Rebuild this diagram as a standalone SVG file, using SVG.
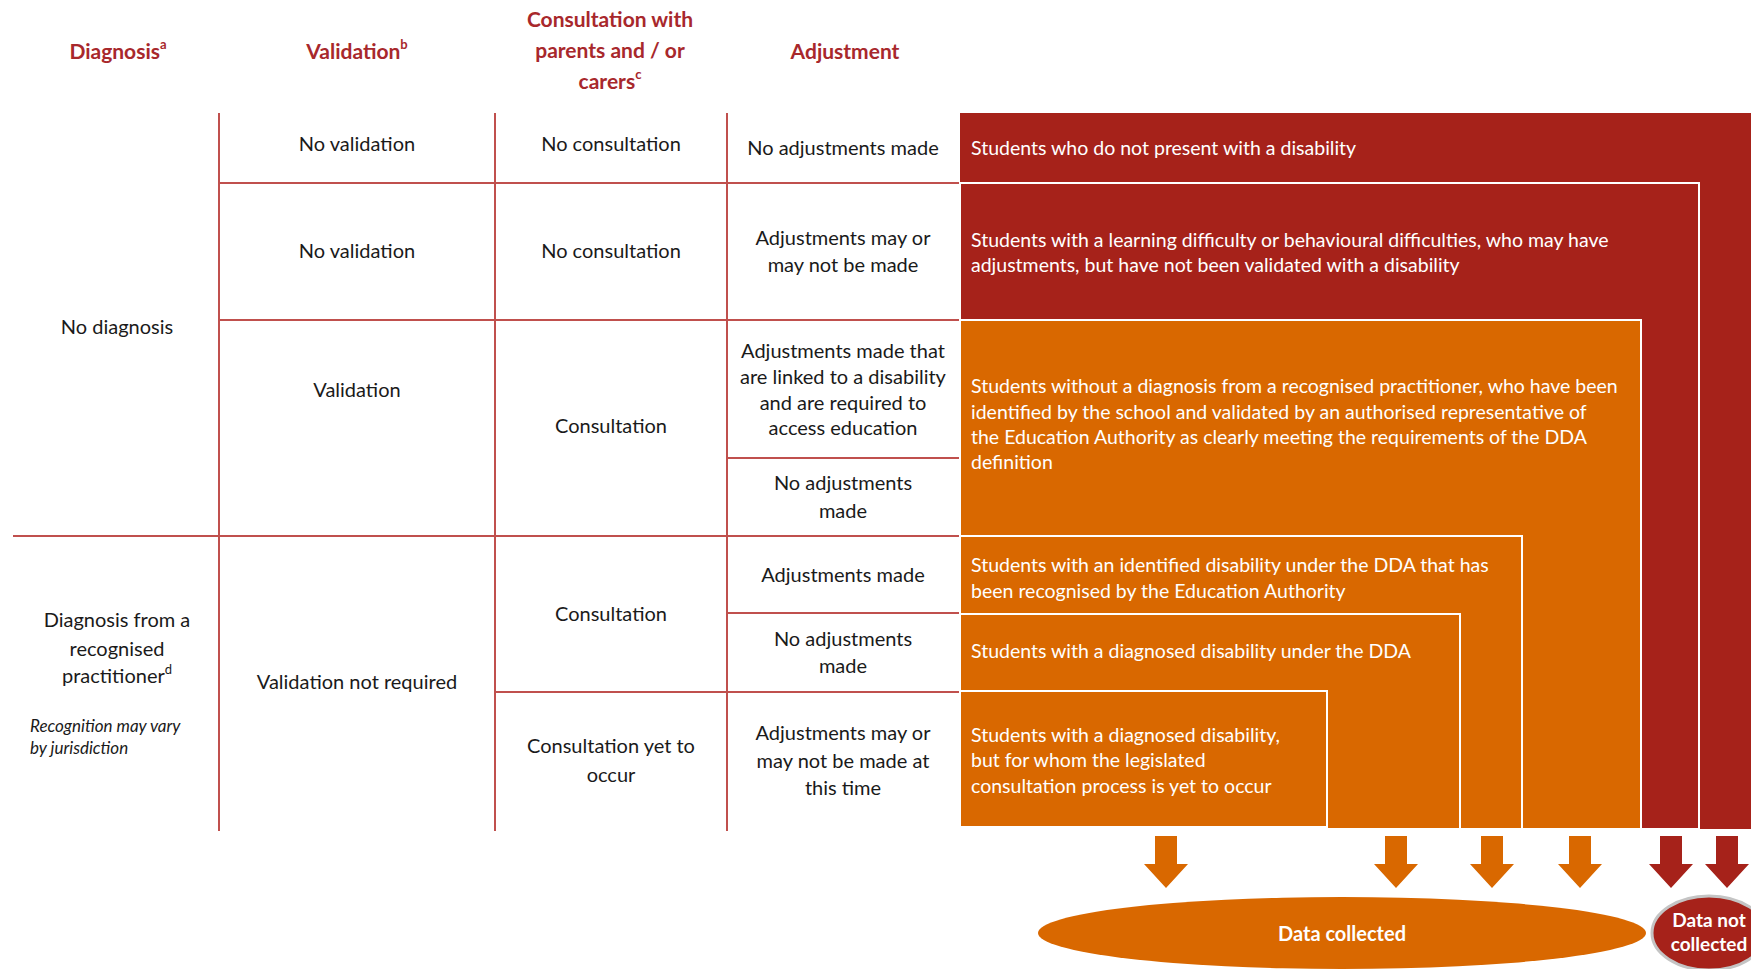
<svg xmlns="http://www.w3.org/2000/svg" width="1751" height="969" viewBox="0 0 1751 969">
<style>
  text { font-family: Lato, "Liberation Sans", sans-serif; }
  .hd { font-size: 21px; font-weight: bold; fill: #A8282C; text-anchor: middle; }
  .sup { font-size: 13px; }
  .cell { font-size: 20px; fill: #1a1a1a; text-anchor: middle; }
  .note { font-size: 17px; font-style: italic; fill: #1a1a1a; }
  .wt { font-size: 19.5px; fill: #ffffff; }
  .grid { stroke: #C0504D; stroke-width: 2; fill: none; }
  .red { fill: #A6221A; }
  .org { fill: #D96800; }
  .box { stroke: #ffffff; stroke-width: 2; }
  .lbl { font-size: 20px; font-weight: bold; fill: #ffffff; text-anchor: middle; }
</style>
<defs>
  <path id="arrow" d="M -11 0 H 11 V 28 H 22 L 0 52 L -22 28 H -11 Z"/>
</defs>
<rect width="1751" height="969" fill="#ffffff"/>

<g id="headers">
  <text class="hd" x="118" y="59">Diagnosis<tspan class="sup" dy="-10">a</tspan></text>
  <text class="hd" x="357" y="59">Validation<tspan class="sup" dy="-10">b</tspan></text>
  <text class="hd" x="610" y="27">Consultation with</text>
  <text class="hd" x="610" y="58">parents and / or</text>
  <text class="hd" x="610" y="89">carers<tspan class="sup" dy="-10">c</tspan></text>
  <text class="hd" x="845" y="59">Adjustment</text>
</g>

<g id="grid">
  <line class="grid" x1="219" y1="113" x2="219" y2="831"/>
  <line class="grid" x1="495" y1="113" x2="495" y2="831"/>
  <line class="grid" x1="727" y1="113" x2="727" y2="831"/>
  <line class="grid" x1="219" y1="183" x2="960" y2="183"/>
  <line class="grid" x1="219" y1="320" x2="960" y2="320"/>
  <line class="grid" x1="727" y1="458" x2="960" y2="458"/>
  <line class="grid" x1="13" y1="536" x2="960" y2="536"/>
  <line class="grid" x1="727" y1="613" x2="960" y2="613"/>
  <line class="grid" x1="495" y1="692" x2="960" y2="692"/>
</g>

<g id="diagnosis">
  <text class="cell" x="117" y="334">No diagnosis</text>
  <text class="cell" x="117" y="627">Diagnosis from a</text>
  <text class="cell" x="117" y="656">recognised</text>
  <text class="cell" x="117" y="683">practitioner<tspan class="sup" dy="-9">d</tspan></text>
  <text class="note" x="30" y="732">Recognition may vary</text>
  <text class="note" x="30" y="754">by jurisdiction</text>
</g>

<g id="validation">
  <text class="cell" x="357" y="151">No validation</text>
  <text class="cell" x="357" y="258">No validation</text>
  <text class="cell" x="357" y="397">Validation</text>
  <text class="cell" x="357" y="689">Validation not required</text>
</g>

<g id="consultation">
  <text class="cell" x="611" y="151">No consultation</text>
  <text class="cell" x="611" y="258">No consultation</text>
  <text class="cell" x="611" y="433">Consultation</text>
  <text class="cell" x="611" y="621">Consultation</text>
  <text class="cell" x="611" y="753">Consultation yet to</text>
  <text class="cell" x="611" y="782">occur</text>
</g>

<g id="adjustment">
  <text class="cell" x="843" y="155">No adjustments  made</text>
  <text class="cell" x="843" y="245">Adjustments may or</text>
  <text class="cell" x="843" y="272">may not be made</text>
  <text class="cell" x="843" y="358">Adjustments made that</text>
  <text class="cell" x="843" y="384">are linked to a disability</text>
  <text class="cell" x="843" y="410">and are required to</text>
  <text class="cell" x="843" y="435">access education</text>
  <text class="cell" x="843" y="490">No adjustments</text>
  <text class="cell" x="843" y="518">made</text>
  <text class="cell" x="843" y="582">Adjustments  made</text>
  <text class="cell" x="843" y="646">No adjustments</text>
  <text class="cell" x="843" y="673">made</text>
  <text class="cell" x="843" y="740">Adjustments may or</text>
  <text class="cell" x="843" y="768">may not be made at</text>
  <text class="cell" x="843" y="795">this time</text>
</g>

<g id="category-1">
  <rect class="red" x="960" y="113" width="800" height="716"/>
  <text class="wt" x="971" y="155">Students who do not present with a disability</text>
</g>
<g id="category-2">
  <rect class="red box" x="960" y="183" width="739" height="646"/>
  <text class="wt" x="971" y="247">Students with a learning difficulty or  behavioural difficulties, who may have</text>
  <text class="wt" x="971" y="272">adjustments, but have not been validated with a disability</text>
</g>
<g id="category-3">
  <rect class="org box" x="960" y="320" width="681" height="509"/>
  <text class="wt" x="971" y="393">Students without a diagnosis from a  recognised practitioner, who have been</text>
  <text class="wt" x="971" y="419">identified by the school and validated by an authorised representative of</text>
  <text class="wt" x="971" y="444">the Education Authority as clearly meeting the requirements of the DDA</text>
  <text class="wt" x="971" y="469">definition</text>
</g>
<g id="category-4">
  <rect class="org box" x="960" y="536" width="562" height="293"/>
  <text class="wt" x="971" y="572">Students with an identified disability under the DDA that has</text>
  <text class="wt" x="971" y="598">been recognised by the Education Authority</text>
</g>
<g id="category-5">
  <rect class="org box" x="960" y="614" width="500" height="215"/>
  <text class="wt" x="971" y="658">Students with a diagnosed disability under the DDA</text>
</g>
<g id="category-6">
  <rect class="org box" x="960" y="691" width="367" height="136"/>
  <text class="wt" x="971" y="742">Students with a diagnosed disability,</text>
  <text class="wt" x="971" y="767">but for whom the legislated</text>
  <text class="wt" x="971" y="793">consultation process is yet to occur</text>
</g>

<g id="connectors">
  <use href="#arrow" class="org" transform="translate(1166,836)"/>
  <use href="#arrow" class="org" transform="translate(1396,836)"/>
  <use href="#arrow" class="org" transform="translate(1492,836)"/>
  <use href="#arrow" class="org" transform="translate(1580,836)"/>
  <use href="#arrow" class="red" transform="translate(1671,836)"/>
  <use href="#arrow" class="red" transform="translate(1727,836)"/>
</g>

<g id="data-collected">
  <ellipse class="org" cx="1342" cy="933" rx="304" ry="36"/>
  <text class="lbl" x="1342" y="941">Data collected</text>
</g>
<g id="data-not-collected">
  <ellipse class="red" cx="1709" cy="933" rx="57" ry="37" stroke="#C4C4C4" stroke-width="3"/>
  <text class="lbl" x="1709" y="927" style="font-size:19px">Data not</text>
  <text class="lbl" x="1709" y="951" style="font-size:19px">collected</text>
</g>
</svg>
